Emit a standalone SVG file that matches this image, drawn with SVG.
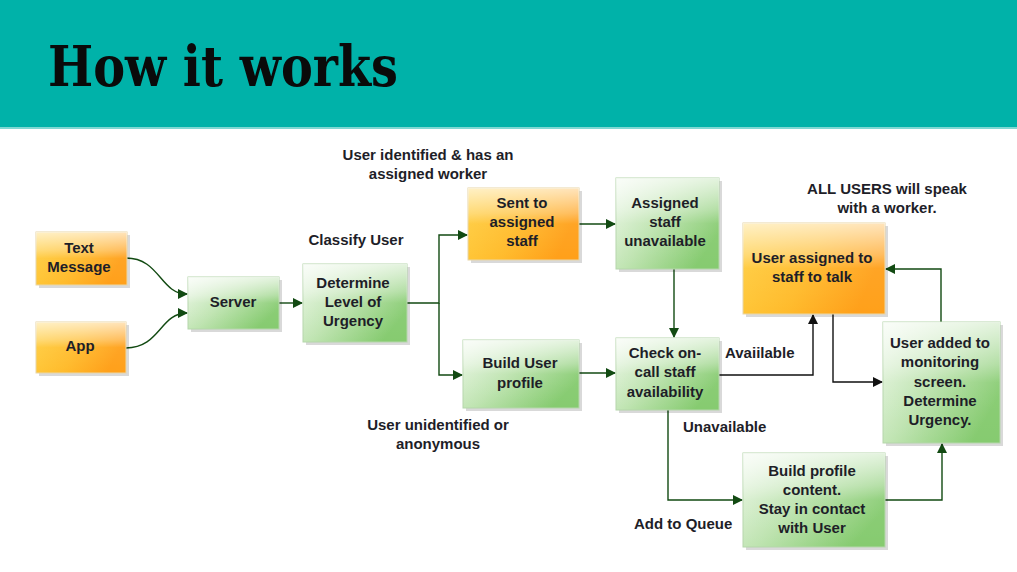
<svg xmlns="http://www.w3.org/2000/svg" width="1017" height="572" viewBox="0 0 1017 572">
<defs>
<linearGradient id="gG" x1="0" y1="0" x2="1" y2="0.6">
<stop offset="0" stop-color="#eef8ea"/>
<stop offset="0.5" stop-color="#bfe4b1"/>
<stop offset="1" stop-color="#86cb70"/>
</linearGradient>
<linearGradient id="gO" x1="0" y1="0" x2="1" y2="0.3">
<stop offset="0" stop-color="#ffcf40"/>
<stop offset="0.55" stop-color="#ffbb2c"/>
<stop offset="1" stop-color="#ffa01a"/>
</linearGradient>
<linearGradient id="gloss" x1="0" y1="0" x2="0" y2="1">
<stop offset="0" stop-color="#ffffff" stop-opacity="0.7"/>
<stop offset="0.35" stop-color="#ffffff" stop-opacity="0.3"/>
<stop offset="0.5" stop-color="#ffffff" stop-opacity="0.05"/>
<stop offset="1" stop-color="#ffffff" stop-opacity="0"/>
</linearGradient>
<marker id="ag" viewBox="0 0 10 10" refX="9" refY="5" markerWidth="10" markerHeight="10" markerUnits="userSpaceOnUse" orient="auto">
<path d="M0,0 L10,5 L0,10 z" fill="#124a12"/>
</marker>
<marker id="ab" viewBox="0 0 10 10" refX="9" refY="5" markerWidth="10" markerHeight="10" markerUnits="userSpaceOnUse" orient="auto">
<path d="M0,0 L10,5 L0,10 z" fill="#111111"/>
</marker>
</defs>
<style>
.sh{fill:#000;opacity:0.15}
.g{fill:url(#gG);stroke:#b5d6ab;stroke-width:1}
.o{fill:url(#gO);stroke:#e8d6a8;stroke-width:1}
.gl{fill:url(#gloss);stroke:none}
.t{font-family:"Liberation Sans",Arial,sans-serif;font-weight:bold;font-size:15px;fill:#1e1e28;text-anchor:middle}
.l{font-family:"Liberation Sans",Arial,sans-serif;font-weight:bold;font-size:15px;fill:#1e1e28}
.cg{fill:none;stroke:#124a12;stroke-width:1.4;marker-end:url(#ag)}
.cb{fill:none;stroke:#111111;stroke-width:1.4;marker-end:url(#ab)}
</style>
<rect x="0" y="0" width="1017" height="572" fill="#ffffff"/>
<rect x="0" y="0" width="1017" height="127" fill="#00b2a9"/>
<rect x="0" y="127" width="1017" height="2" fill="#7fd8d3"/>
<text x="48" y="86" font-family="'DejaVu Serif','Liberation Serif',serif" font-weight="bold" font-size="56" fill="#0a0a0a" textLength="350" lengthAdjust="spacingAndGlyphs">How it works</text>

<g id="connectors">
<path class="cg" d="M126,258 C160,258 160,294 187,294"/>
<path class="cg" d="M126,348 C160,348 160,313 187,313"/>
<path class="cg" d="M279,303 L302,303"/>
<path class="cg" d="M407,303 L439,303 L439,235 L467,235"/>
<path class="cg" d="M439,303 L439,375 L462,375"/>
<path class="cg" d="M579,224 L615,224"/>
<path class="cg" d="M674,269 L674,337"/>
<path class="cg" d="M579,373 L615,373"/>
<path class="cb" d="M719,375 L813,375 L813,315"/>
<path class="cb" d="M833,314 L833,382 L882,382"/>
<path class="cg" d="M941,322 L941,269 L886,269"/>
<path class="cg" d="M668,410 L668,500 L742,500"/>
<path class="cg" d="M885,500 L942,500 L942,444"/>
</g>

<g id="n-text"><rect class="sh" x="39" y="235" width="91" height="53"/><rect class="o" x="36" y="232" width="91" height="53"/><rect class="gl" x="36" y="232" width="91" height="53"/><text class="t" x="79" y="253">Text</text><text class="t" x="79" y="272">Message</text></g>
<g id="n-app"><rect class="sh" x="39" y="325" width="90" height="51"/><rect class="o" x="36" y="322" width="90" height="51"/><rect class="gl" x="36" y="322" width="90" height="51"/><text class="t" x="80" y="351">App</text></g>
<g id="n-server"><rect class="sh" x="191" y="280" width="91" height="52"/><rect class="g" x="188" y="277" width="91" height="52"/><rect class="gl" x="188" y="277" width="91" height="52"/><text class="t" x="233" y="307">Server</text></g>
<g id="n-determine"><rect class="sh" x="306" y="267" width="104" height="78"/><rect class="g" x="303" y="264" width="104" height="78"/><rect class="gl" x="303" y="264" width="104" height="78"/><text class="t" x="353" y="288">Determine</text><text class="t" x="353" y="307">Level of</text><text class="t" x="353" y="326">Urgency</text></g>
<g id="n-sent"><rect class="sh" x="471" y="191" width="111" height="72"/><rect class="o" x="468" y="188" width="111" height="72"/><rect class="gl" x="468" y="188" width="111" height="72"/><text class="t" x="522" y="208">Sent to</text><text class="t" x="522" y="227">assigned</text><text class="t" x="522" y="246">staff</text></g>
<g id="n-unavail"><rect class="sh" x="619" y="181" width="103" height="91"/><rect class="g" x="616" y="178" width="103" height="91"/><rect class="gl" x="616" y="178" width="103" height="91"/><text class="t" x="665" y="208">Assigned</text><text class="t" x="665" y="227">staff</text><text class="t" x="665" y="246">unavailable</text></g>
<g id="n-check"><rect class="sh" x="619" y="341" width="103" height="72"/><rect class="g" x="616" y="338" width="103" height="72"/><rect class="gl" x="616" y="338" width="103" height="72"/><text class="t" x="665" y="358">Check on-</text><text class="t" x="665" y="377">call staff</text><text class="t" x="665" y="397">availability</text></g>
<g id="n-assigned"><rect class="sh" x="746" y="226" width="142" height="91"/><rect class="o" x="743" y="223" width="142" height="91"/><rect class="gl" x="743" y="223" width="142" height="91"/><text class="t" x="812" y="263">User assigned to</text><text class="t" x="812" y="282">staff to talk</text></g>
<g id="n-monitor"><rect class="sh" x="886" y="325" width="117" height="121"/><rect class="g" x="883" y="322" width="117" height="121"/><rect class="gl" x="883" y="322" width="117" height="121"/><text class="t" x="940" y="348">User added to</text><text class="t" x="940" y="367">monitoring</text><text class="t" x="940" y="387">screen.</text><text class="t" x="940" y="406">Determine</text><text class="t" x="940" y="425">Urgency.</text></g>
<g id="n-profile"><rect class="sh" x="466" y="343" width="116" height="68"/><rect class="g" x="463" y="340" width="116" height="68"/><rect class="gl" x="463" y="340" width="116" height="68"/><text class="t" x="520" y="368">Build User</text><text class="t" x="520" y="388">profile</text></g>
<g id="n-content"><rect class="sh" x="746" y="456" width="142" height="94"/><rect class="g" x="743" y="453" width="142" height="94"/><rect class="gl" x="743" y="453" width="142" height="94"/><text class="t" x="812" y="476">Build profile</text><text class="t" x="812" y="495">content.</text><text class="t" x="812" y="514">Stay in contact</text><text class="t" x="812" y="533">with User</text></g>

<g id="labels">
<text class="t" x="428" y="160">User identified &amp; has an</text>
<text class="t" x="428" y="179">assigned worker</text>
<text class="t" x="356" y="245">Classify User</text>
<text class="t" x="887" y="194">ALL USERS will speak</text>
<text class="t" x="887" y="213">with a worker.</text>
<text class="l" x="725" y="358">Avaiilable</text>
<text class="l" x="683" y="432">Unavailable</text>
<text class="t" x="438" y="430">User unidentified or</text>
<text class="t" x="438" y="449">anonymous</text>
<text class="l" x="634" y="529">Add to Queue</text>
</g>
</svg>
